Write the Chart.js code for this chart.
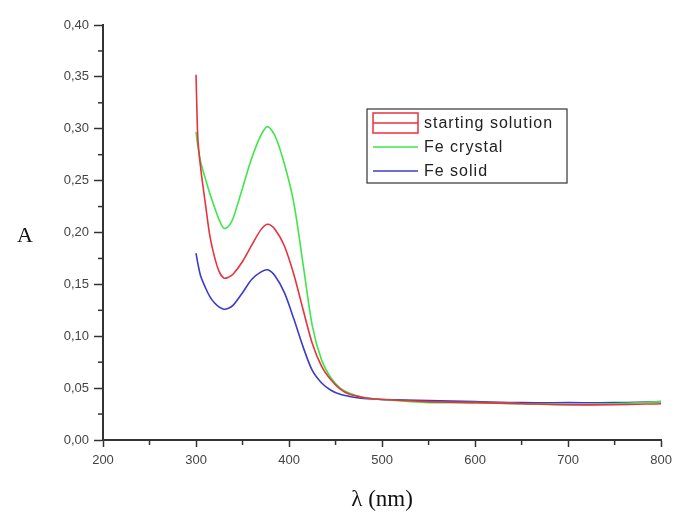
<!DOCTYPE html>
<html>
<head>
<meta charset="utf-8">
<script src="https://cdn.jsdelivr.net/npm/chart.js@4"></script>
<style>
  html, body { margin: 0; padding: 0; background: #ffffff; }
  canvas { display: block; }
</style>
</head>
<body>
<canvas id="c" width="678" height="518"></canvas>
<script>
// ---- data ----
const wavelengths = [300, 302, 305, 310, 315, 320, 325, 330, 335, 340, 350, 360, 370, 377, 385, 395, 405, 415, 425, 435, 445, 455, 465, 480, 500, 550, 600, 650, 700, 750, 800];
const startingSolution = [0.352, 0.290, 0.262, 0.228, 0.196, 0.176, 0.162, 0.156, 0.157, 0.160, 0.172, 0.188, 0.203, 0.208, 0.203, 0.187, 0.160, 0.126, 0.093, 0.071, 0.058, 0.049, 0.044, 0.041, 0.039, 0.037, 0.036, 0.035, 0.034, 0.034, 0.035];
const feCrystal = [0.297, 0.283, 0.268, 0.252, 0.237, 0.224, 0.212, 0.204, 0.206, 0.214, 0.243, 0.272, 0.294, 0.302, 0.293, 0.266, 0.229, 0.170, 0.110, 0.077, 0.060, 0.050, 0.045, 0.041, 0.039, 0.036, 0.036, 0.035, 0.034, 0.035, 0.037];
const feSolid = [0.180, 0.170, 0.158, 0.147, 0.138, 0.132, 0.128, 0.126, 0.127, 0.130, 0.142, 0.155, 0.162, 0.164, 0.158, 0.142, 0.117, 0.090, 0.067, 0.055, 0.048, 0.044, 0.042, 0.040, 0.039, 0.038, 0.037, 0.036, 0.036, 0.036, 0.037];
const seriesNames = ['starting solution', 'Fe crystal', 'Fe solid'];
const xTicks = [200, 300, 400, 500, 600, 700, 800];
const yTicks = [0, 0.05, 0.10, 0.15, 0.20, 0.25, 0.30, 0.35, 0.40];
const xTitle = 'λ (nm)';
const yTitle = 'A';

const colors = ['#e8323c', '#3ee64a', '#3c3cc4'];
const seriesValues = [startingSolution, feCrystal, feSolid];

const toPoints = vals => wavelengths.map((w, i) => ({ x: w, y: vals[i] }));

const axisColor = '#333333';
const labelColor = '#444444';

const extras = {
  id: 'extras',
  afterDraw(chart) {
    const ctx = chart.ctx;
    const xs = chart.scales.x, ys = chart.scales.y;
    ctx.save();
    // minor ticks
    ctx.strokeStyle = axisColor;
    ctx.lineWidth = 1.5;
    const step = xTicks[1] - xTicks[0];
    for (let i = 0; i < xTicks.length - 1; i++) {
      const px = xs.getPixelForValue(xTicks[i] + step / 2);
      ctx.beginPath();
      ctx.moveTo(px, ys.bottom);
      ctx.lineTo(px, ys.bottom + 5);
      ctx.stroke();
    }
    const ystep = yTicks[1] - yTicks[0];
    for (let i = 0; i < yTicks.length - 1; i++) {
      const py = ys.getPixelForValue(yTicks[i] + ystep / 2);
      ctx.beginPath();
      ctx.moveTo(xs.left, py);
      ctx.lineTo(xs.left - 5, py);
      ctx.stroke();
    }
    // y title
    ctx.fillStyle = '#111111';
    ctx.font = '22px "Liberation Serif", "DejaVu Serif", serif';
    ctx.textAlign = 'center';
    ctx.textBaseline = 'middle';
    ctx.fillText(yTitle, 25, (ys.top + ys.bottom) / 2 + 4);

    // legend box
    const area = chart.chartArea;
    const bx = area.left + (area.right - area.left) * 0.473;
    const by = area.top + 84;
    const bw = 200, bh = 74;
    ctx.lineWidth = 1.2;
    ctx.strokeStyle = '#333333';
    ctx.fillStyle = '#ffffff';
    ctx.fillRect(bx, by, bw, bh);
    ctx.strokeRect(bx, by, bw, bh);
    const rowY = [by + 14, by + 38, by + 62];
    ctx.font = '16px "Liberation Sans", Arial, sans-serif';
    try { ctx.letterSpacing = '1px'; } catch (e) {}
    ctx.textAlign = 'left';
    for (let i = 0; i < seriesNames.length; i++) {
      ctx.strokeStyle = colors[i];
      ctx.lineWidth = 1.5;
      if (i === 0) {
        ctx.strokeRect(bx + 6, rowY[i] - 10, 45, 20);
      }
      ctx.beginPath();
      ctx.moveTo(bx + 6, rowY[i]);
      ctx.lineTo(bx + 51, rowY[i]);
      ctx.stroke();
      ctx.fillStyle = '#222222';
      ctx.fillText(seriesNames[i], bx + 57, rowY[i] + 1);
    }
    ctx.restore();
  }
};

new Chart(document.getElementById('c'), {
  type: 'line',
  data: {
    datasets: seriesValues.map((vals, i) => ({
      label: seriesNames[i],
      data: toPoints(vals),
      borderColor: colors[i],
      backgroundColor: colors[i],
      borderWidth: 1.6,
      pointRadius: 0,
      fill: false,
      tension: 0.3
    }))
  },
  options: {
    responsive: false,
    animation: false,
    layout: { padding: { top: 25, right: 14, left: 0, bottom: 0 } },
    plugins: { legend: { display: false }, tooltip: { enabled: false } },
    scales: {
      x: {
        type: 'linear',
        min: xTicks[0],
        max: xTicks[xTicks.length - 1],
        afterBuildTicks: s => { s.ticks = xTicks.map(v => ({ value: v })); },
        afterFit: s => { s.height = 78; },
        grid: { drawOnChartArea: false, drawTicks: true, tickLength: 7, tickColor: axisColor, tickWidth: 1.5 },
        border: { display: true, color: axisColor, width: 2 },
        ticks: {
          color: labelColor,
          padding: 6,
          maxRotation: 0,
          font: { family: '"Liberation Sans", Arial, sans-serif', size: 13 }
        },
        title: {
          display: true,
          text: xTitle,
          color: '#111111',
          font: { family: '"Liberation Serif", "DejaVu Serif", serif', size: 23 },
          padding: { top: 0, bottom: 4 }
        }
      },
      y: {
        type: 'linear',
        min: yTicks[0],
        max: yTicks[yTicks.length - 1],
        afterBuildTicks: s => { s.ticks = yTicks.map(v => ({ value: v })); },
        afterFit: s => { s.width = 103; },
        grid: { drawOnChartArea: false, drawTicks: true, tickLength: 9, tickColor: axisColor, tickWidth: 1.5 },
        border: { display: true, color: axisColor, width: 2 },
        ticks: {
          color: labelColor,
          padding: 5,
          font: { family: '"Liberation Sans", Arial, sans-serif', size: 13 },
          callback: v => Number(v).toFixed(2).replace('.', ',')
        }
      }
    }
  },
  plugins: [extras]
});
</script>
</body>
</html>
